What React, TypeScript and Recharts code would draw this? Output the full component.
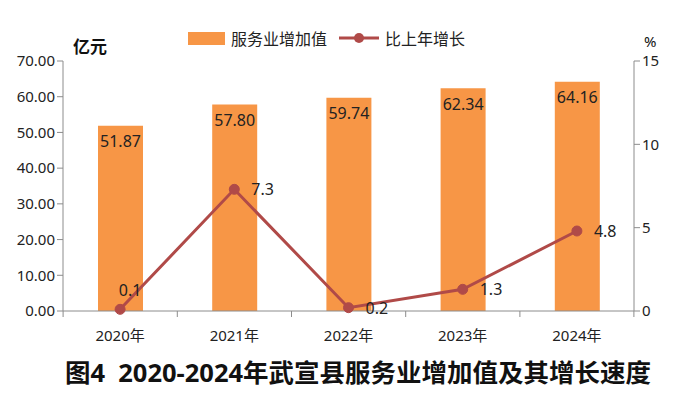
import { Bar, ComposedChart, LabelList, Legend, Line, XAxis, YAxis } from 'recharts';

const years = ['2020年', '2021年', '2022年', '2023年', '2024年'];
const serviceValue = [51.87, 57.8, 59.74, 62.34, 64.16];
const growthRate = [0.1, 7.3, 0.2, 1.3, 4.8];
const leftTicks = [0, 10, 20, 30, 40, 50, 60, 70];
const rightTicks = [0, 5, 10, 15];

const data = years.map((year, i) => ({ year, value: serviceValue[i], growth: growthRate[i] }));

const FONT = '"Noto Sans", "Noto Sans CJK SC", sans-serif';
const BAR = '#F79646';
const LINE = '#B04A48';
const AXIS = '#8c8c8c';

// Excel style: x ticks sit between the categories
const XTick = (props: any) => {
  const { x, y, payload, index } = props;
  const half = 57;
  return (
    <g>
      <line x1={x - half} y1={y - 8} x2={x - half} y2={y - 2} stroke={AXIS} />
      {index === years.length - 1 && <line x1={x + half} y1={y - 8} x2={x + half} y2={y - 2} stroke={AXIS} />}
      <text x={x} y={y + 22} textAnchor="middle" fontSize={15} fill="#222" fontFamily={FONT}>
        {payload.value}
      </text>
    </g>
  );
};

const GrowthLabel = (props: any) => {
  const { x, y, value, index } = props;
  const above = index === 0;
  return (
    <text
      x={above ? x + 10 : x + 17}
      y={above ? y - 13 : y + 6}
      fontSize={16}
      fill="#222"
      fontFamily={FONT}
      textAnchor={above ? 'middle' : 'start'}
    >
      {value.toFixed(1)}
    </text>
  );
};

const LegendBox = () => (
  <div style={{ display: 'flex', alignItems: 'center', fontFamily: FONT, fontSize: 16, color: '#222' }}>
    <span style={{ width: 37, height: 13, background: BAR, display: 'inline-block', marginRight: 6 }} />
    <span style={{ marginRight: 12 }}>服务业增加值</span>
    <svg width={40} height={14} style={{ marginRight: 6 }}>
      <line x1={0} y1={7} x2={40} y2={7} stroke={LINE} strokeWidth={3} />
      <circle cx={20} cy={7} r={5} fill={LINE} />
    </svg>
    <span>比上年增长</span>
  </div>
);

export default function App() {
  return (
    <div style={{ position: 'absolute', left: 0, top: 0, width: 679, height: 393, background: '#fff', fontFamily: FONT }}>
      <ComposedChart width={679} height={393} data={data} margin={{ top: 37, right: 0, bottom: 52, left: 0 }}>
        <Legend
          verticalAlign="top"
          content={<LegendBox />}
          wrapperStyle={{ top: 26, left: 188, width: 'auto' }}
        />
        <XAxis
          dataKey="year"
          height={30}
          stroke={AXIS}
          tickLine={false}
          tick={<XTick />}
          interval={0}
        />
        <YAxis
          yAxisId="left"
          width={63}
          domain={[0, 70]}
          ticks={leftTicks}
          tickFormatter={(v: number) => v.toFixed(2)}
          stroke={AXIS}
          tickSize={6}
          tick={{ fill: '#222', fontSize: 15, fontFamily: FONT }}
          interval={0}
        />
        <YAxis
          yAxisId="right"
          orientation="right"
          width={45}
          domain={[0, 15]}
          ticks={rightTicks}
          stroke={AXIS}
          tickSize={6}
          tick={{ fill: '#222', fontSize: 15, fontFamily: FONT }}
          interval={0}
        />
        <Bar yAxisId="left" dataKey="value" fill={BAR} barSize={45} isAnimationActive={false}>
          <LabelList
            dataKey="value"
            position="insideTop"
            offset={10}
            formatter={(v: any) => Number(v).toFixed(2)}
            style={{ fill: '#222', fontSize: 16, fontFamily: FONT }}
          />
        </Bar>
        <Line
          yAxisId="right"
          dataKey="growth"
          stroke={LINE}
          strokeWidth={3}
          dot={{ r: 5, fill: LINE, stroke: LINE, strokeWidth: 1 }}
          isAnimationActive={false}
        >
          <LabelList dataKey="growth" content={<GrowthLabel />} />
        </Line>
        <text x={73} y={53} fontSize={17} fontWeight="bold" fill="#111" fontFamily={FONT}>亿元</text>
        <text x={644} y={47} fontSize={15} fill="#111" fontFamily={FONT}>%</text>
      </ComposedChart>
      <div
        style={{
          position: 'absolute',
          left: 0,
          width: 716,
          top: 352,
          textAlign: 'center',
          fontSize: 25.5,
          fontWeight: 'bold',
          color: '#111',
          fontFamily: FONT,
          whiteSpace: 'nowrap',
        }}
      >
        图4&nbsp;&nbsp;2020-2024年武宣县服务业增加值及其增长速度
      </div>
    </div>
  );
}
